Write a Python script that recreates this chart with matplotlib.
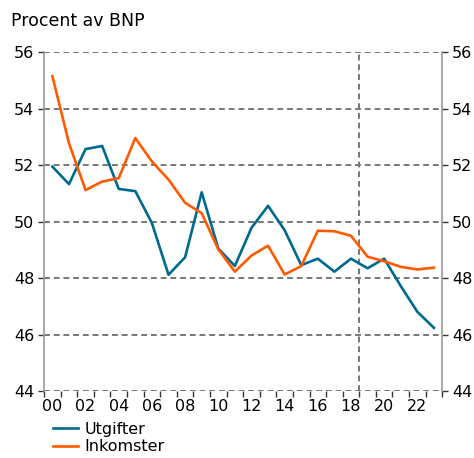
import numpy as np
import matplotlib
matplotlib.use("Agg")
import matplotlib.pyplot as plt

# Years 2000-2023
years = list(range(2000, 2024))
utgifter = [51.95, 51.33, 52.57, 52.68, 51.16, 51.08, 49.95, 48.12, 48.74, 51.04,
            49.05, 48.43, 49.78, 50.56, 49.70, 48.46, 48.69, 48.23, 48.69, 48.35,
            48.69, 47.72, 46.81, 46.24]
inkomster = [55.15, 52.78, 51.12, 51.42, 51.54, 52.96, 52.13, 51.49, 50.67, 50.30,
             49.02, 48.23, 48.80, 49.15, 48.13, 48.43, 49.68, 49.66, 49.50, 48.76,
             48.60, 48.40, 48.31, 48.37]
tick_labels = ["00", "02", "04", "06", "08", "10", "12", "14", "16", "18", "20", "22"]
yticks = [44, 46, 48, 50, 52, 54, 56]

blue = "#00698f"
orange = "#ff5a00"
grid_col = "#777777"

fig = plt.figure(figsize=(4.74, 4.58), dpi=100)
ax = fig.add_axes([0.093, 0.146, 0.840, 0.740])

x = np.arange(len(years))
ax.plot(x, utgifter, color=blue, lw=1.9, label="Utgifter", zorder=3)
ax.plot(x, inkomster, color=orange, lw=1.9, label="Inkomster", zorder=3)

ax.set_xlim(-0.5, len(years) - 0.5)
ax.set_ylim(44, 56)

for y in yticks:
    ax.axhline(y, color=grid_col, lw=1.4, ls=(0, (3, 2)), zorder=1)
ax.axvline(18.5, color=grid_col, lw=1.4, ls=(0, (3, 2)), zorder=1)

for side in ["top", "bottom"]:
    ax.spines[side].set_visible(False)
for side in ["left", "right"]:
    ax.spines[side].set_color("#999999")
    ax.spines[side].set_linewidth(1.2)

ax.set_yticks(yticks)
ax.tick_params(axis="y", which="both", left=True, right=True, labelleft=True,
               labelright=True, direction="out", length=4, width=1,
               color="#333333", labelsize=11.5, pad=3)

# x ticks at year boundaries, labels centred on every second year
ax.set_xticks(np.arange(-0.5, len(years), 1.0))
ax.set_xticklabels([])
ax.set_xticks(np.arange(0, len(years), 2), minor=True)
ax.set_xticklabels(tick_labels, minor=True)
ax.tick_params(axis="x", which="major", direction="out", length=4, width=1,
               color="#333333")
ax.tick_params(axis="x", which="minor", length=0, labelsize=11.5, pad=6)

fig.text(0.024, 0.955, "Procent av BNP", fontsize=12.5, va="center", ha="left")

fig.legend(loc="lower left", bbox_to_anchor=(0.098, -0.006), frameon=False,
           fontsize=11.5, handlelength=1.6, handletextpad=0.4,
           labelspacing=0.15, borderaxespad=0)

fig.savefig("out.png", dpi=100)
